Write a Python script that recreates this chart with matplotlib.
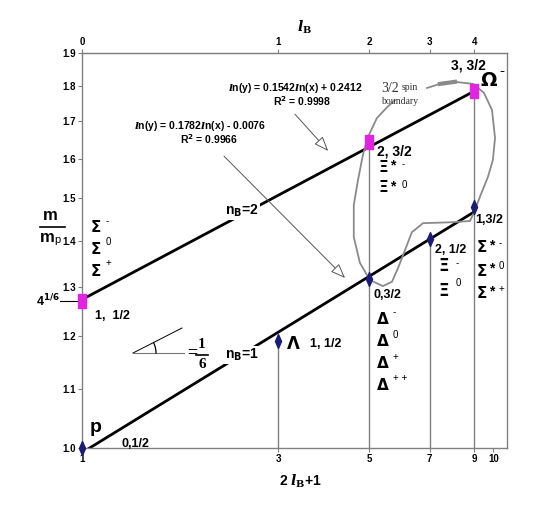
"""Baryon mass ratios m/m_p against 2l_B+1 on log-log axes, two n_B branches."""

import matplotlib

matplotlib.use("Agg")
import matplotlib.pyplot as plt
import numpy as np
from matplotlib.lines import Line2D
from matplotlib.ticker import NullLocator
from matplotlib.transforms import Affine2D

# n_B = 1 branch: p, Lambda, Delta, Xi, Sigma*
nb1_x = [1, 3, 5, 7, 9]
nb1_m = [1.000, 1.190, 1.315, 1.405, 1.480]
# n_B = 2 branch: Sigma, Xi*, Omega
nb2_x = [1, 5, 9]
nb2_m = [1.270, 1.645, 1.785]

# trendline coefficients as printed on the chart: ln(y) = a ln(x) + b
fit1 = (0.1782, -0.0076, 0.9966)
fit2 = (0.1542, 0.2412, 0.9998)

# vertical drop lines (x, top value)
drop_x = [3, 5, 7, 9]
drop_top = [1.190, 1.645, 1.405, 1.785]

x_ticks = [1, 3, 5, 7, 9, 10]
y_ticks = [1.0, 1.1, 1.2, 1.3, 1.4, 1.5, 1.6, 1.7, 1.8, 1.9]
lb_ticks = [1, 3, 5, 7, 9]
lb_labels = ["0", "1", "2", "3", "4"]

# hand-drawn "3/2 spin boundary" loop, in data coordinates
bound_x = [5.77, 5.52, 5.21, 4.96, 4.82, 4.69, 4.58, 4.58, 4.74, 5.01, 5.39, 5.67,
           5.87, 6.10, 6.34, 6.75, 7.85, 8.78, 9.03, 9.28, 9.71, 9.98, 10.10, 9.93,
           9.49, 8.93, 8.07, 7.42, 6.90]
bound_y = [1.760, 1.740, 1.709, 1.658, 1.610, 1.546, 1.484, 1.409, 1.351, 1.314,
           1.301, 1.310, 1.340, 1.379, 1.420, 1.441, 1.443, 1.446, 1.472, 1.504,
           1.554, 1.597, 1.655, 1.732, 1.781, 1.807, 1.813, 1.807, 1.795]

NAVY = "#1c1c78"
MAGENTA = "#e024e0"
GREY = "#808080"
GREEK = ["DejaVu Sans"]
SERIF = ["Liberation Serif", "DejaVu Serif"]

plt.rcParams.update({
    "font.family": ["Liberation Sans", "DejaVu Sans"],
    "font.weight": "bold",
    "mathtext.fontset": "dejavusans",
})

fig = plt.figure(figsize=(5.4, 5.13), dpi=100)
ax = fig.add_axes([82 / 540, 1 - 448 / 513, 425 / 540, 395 / 513])
# pixel coordinates of the 540x513 canvas, origin top-left, for text layout
pix = Affine2D().scale(1 / 540, -1 / 513).translate(0, 1) + fig.transFigure

ax.set_xscale("log")
ax.set_yscale("log")
ax.set_xlim(1, 10.8)
ax.set_ylim(1.0, 1.9)
ax.xaxis.set_minor_locator(NullLocator())
ax.yaxis.set_minor_locator(NullLocator())
ax.set_xticks(x_ticks, labels=[str(v) for v in x_ticks])
ax.set_yticks(y_ticks, labels=[f"{v:.1f}" for v in y_ticks])
ax.tick_params(length=3, width=0.8, color=GREY, labelsize=7, pad=1.5)
for sp in ax.spines.values():
    sp.set_color(GREY)
    sp.set_linewidth(1)

top = ax.secondary_xaxis("top")
top.xaxis.set_minor_locator(NullLocator())
top.set_xticks(lb_ticks, labels=lb_labels)
top.tick_params(length=3, width=0.8, color=GREY, labelsize=7, pad=1.5)
top.spines["top"].set_color(GREY)

# drop lines
ax.vlines(drop_x, 1.0, drop_top, colors=GREY, lw=1, zorder=1)

# trendlines
for (a, b, _), xs in [(fit1, nb1_x), (fit2, nb2_x)]:
    xx = np.geomspace(xs[0], xs[-1], 60)
    ax.plot(xx, np.exp(a * np.log(xx) + b), color="black", lw=2, zorder=2)

diamond = [(0, 0.5), (0.22, 0), (0, -0.5), (-0.22, 0), (0, 0.5)]
rect = [(-0.3, -0.5), (0.3, -0.5), (0.3, 0.5), (-0.3, 0.5), (-0.3, -0.5)]
ax.plot(nb1_x, nb1_m, ls="none", marker=diamond, ms=10, color=NAVY, mec=NAVY,
        zorder=5, clip_on=False)
ax.plot(nb2_x, nb2_m, ls="none", marker=rect, ms=10, color=MAGENTA, mec=MAGENTA,
        zorder=5, clip_on=False)

# spin boundary loop
ax.plot(bound_x, bound_y, color="#8a8a8a", lw=1.3, zorder=3, clip_on=False)
ax.plot(bound_x[26:28], bound_y[26:28], color="#8a8a8a", lw=3, zorder=3)

# 4^(1/6) marker line at the n_B=2 intercept
ax.plot([0.884, 1.0], [nb2_m[0], nb2_m[0]], color="black", lw=0.8, clip_on=False)
fig.text(60, 306, r"4$^{\mathbf{1/6}}$", transform=pix, fontsize=9, ha="right",
         va="baseline")

# fit annotations
eq_style = dict(transform=pix, fontsize=7.5, ha="center", va="center")
fig.text(295, 88, rf"$\mathit{{l}}$n(y) = {fit2[0]:.4f}$\mathit{{l}}$n(x) + {fit2[1]:.4f}",
         math_fontfamily="dejavuserif", **eq_style)
fig.text(302, 101, rf"R$^2$ = {fit2[2]:.4f}", **eq_style)
fig.text(200, 126, rf"$\mathit{{l}}$n(y) = {fit1[0]:.4f}$\mathit{{l}}$n(x) - {-fit1[1]:.4f}",
         math_fontfamily="dejavuserif", **eq_style)
fig.text(209, 139, rf"R$^2$ = {fit1[2]:.4f}", **eq_style)
arrow = dict(arrowstyle="-|>,head_length=0.9,head_width=0.35", fc="white",
             ec="#555555", lw=0.7)
ax.annotate("", xy=(4.01, 1.615), xytext=(3.26, 1.726), arrowprops=arrow)
ax.annotate("", xy=(4.41, 1.314), xytext=(2.19, 1.612), arrowprops=arrow)

# branch labels (sit on the line, breaking it)
nb_box = dict(fc="white", ec="none", pad=0.5)
fig.text(242, 211, r"n$_\mathrm{B}$=2", transform=pix, fontsize=10, ha="center",
         va="center", bbox=nb_box, zorder=6)
fig.text(242, 355, r"n$_\mathrm{B}$=1", transform=pix, fontsize=10, ha="center",
         va="center", bbox=nb_box, zorder=6)


def label(x, y, s, size=9, ha="left", **kw):
    fig.text(x, y, s, transform=pix, fontsize=size, ha=ha, va="center", **kw)


def particle(x, y, base, sup="", size=12, dx=10, dy=-6, sup_size=7):
    label(x, y, base, size=size, ha="center", family=GREEK)
    if sup:
        label(x + dx, y + dy, sup, size=sup_size, weight="normal")


# proton and Lambda
label(96, 428, "p", size=14, ha="center")
label(122, 444, "0,1/2")
particle(293, 344, "Λ", size=12)
label(310, 344, "1, 1/2")

# Sigma (n_B=2, l=0)
particle(96, 228, "Σ", "-", size=11, dy=-7)
particle(96, 250, "Σ", "0", size=11, dy=-8)
particle(96, 271, "Σ", "+", size=11, dy=-8)
label(95, 316, "1,  1/2")

# Delta
label(373, 295, "0,3/2")
particle(383, 319, "Δ", "-", size=11, dy=-7)
particle(383, 341, "Δ", "0", size=11, dy=-6)
particle(383, 363, "Δ", "+", size=11, dy=-6)
particle(383, 385, "Δ", "+ +", size=11, dy=-7)

# Xi
label(435, 250, "2, 1/2")
particle(444, 266, "Ξ", "-", size=12, dx=12, dy=-3)
particle(444, 291, "Ξ", "0", size=12, dx=12, dy=-8)

# Sigma*
label(475, 220, "1,3/2")
for yy, s in [(248, "-"), (271, "0"), (294, "+")]:
    particle(482, yy, "Σ", "", size=11)
    label(489, yy - 3, "*", size=10)
    label(499, yy - 5, s, size=7, weight="normal")

# Xi*
label(377, 151, "2, 3/2", size=10)
for yy, s in [(167, "-"), (188, "0")]:
    particle(383, yy, "Ξ", "", size=11)
    label(390, yy - 2, "*", size=10)
    label(402, yy - 3, s, size=7, weight="normal")

# Omega
label(468, 65, "3, 3/2", size=10, ha="center")
particle(489, 81, "Ω", "-", size=14, dx=10, dy=-10, sup_size=11)

# spin boundary caption
label(381, 89, "3/2", size=10, family=SERIF, weight="normal", color="#333333")
label(402, 88, "spin", size=7, family=SERIF, weight="normal", color="#333333")
label(381, 101, "boundary", size=7, family=SERIF, weight="normal", color="#333333")

# slope-angle glyph: = 1/6
fig.add_artist(Line2D([133, 182], [353, 328], transform=pix, color="black", lw=0.7))
fig.add_artist(Line2D([133, 184], [353, 353], transform=pix, color="#777777", lw=0.8))
theta = np.linspace(0, np.deg2rad(27), 20)
fig.add_artist(Line2D(133 + 23 * np.cos(theta), 353 - 23 * np.sin(theta),
                      transform=pix, color="black", lw=0.9))
label(187, 353, "=", size=13, family=SERIF)
label(202, 345, "1", size=11, ha="center", family=SERIF)
fig.add_artist(Line2D([196, 208], [355, 355], transform=pix, color="black", lw=1.2))
label(202, 364, "6", size=11, ha="center", family=SERIF)

# axis titles
label(50, 215, "m", size=12, ha="center")
fig.add_artist(Line2D([40, 65], [227, 227], transform=pix, color="black", lw=1.2))
label(47, 238, "m", size=12, ha="center")
label(54, 240, "p", size=8, weight="normal")
fig.text(300, 481, r"2 $\mathit{l}_\mathrm{B}$+1", transform=pix, fontsize=10,
         ha="center", va="center", math_fontfamily="dejavuserif")
fig.text(305, 27, r"$\mathit{l}_\mathrm{B}$", transform=pix, fontsize=10,
         ha="center", va="center", math_fontfamily="dejavuserif")

fig.savefig("out.png", dpi=100, facecolor="white")
